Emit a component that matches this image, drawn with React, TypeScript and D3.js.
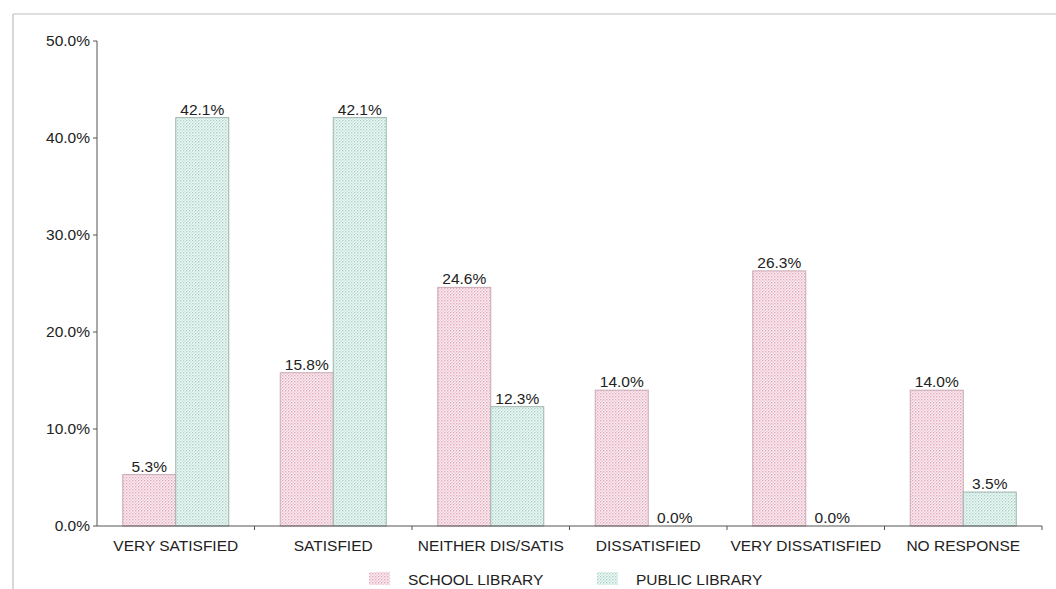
import React from "react";
import * as d3 from "d3";

const categories = [
  "VERY SATISFIED",
  "SATISFIED",
  "NEITHER DIS/SATIS",
  "DISSATISFIED",
  "VERY DISSATISFIED",
  "NO RESPONSE",
];
const schoolLibrary = [5.3, 15.8, 24.6, 14.0, 26.3, 14.0];
const publicLibrary = [42.1, 42.1, 12.3, 0.0, 0.0, 3.5];
const seriesNames = ["SCHOOL LIBRARY", "PUBLIC LIBRARY"];
const yTicks = [0, 10, 20, 30, 40, 50];

const W = 1056;
const H = 589;
const left = 97;
const right = 1042;
const top = 41;
const bottom = 526;
const font = "'Liberation Sans', Arial, sans-serif";
const fs = 15.5;

export default function App() {
  const x = d3.scaleBand<string>().domain(categories).range([left, right]);
  const y = d3.scaleLinear().domain([0, 50]).range([bottom, top]);
  const barW = 53;
  const series = [
    { name: seriesNames[0], values: schoolLibrary, fill: "url(#dotPink)", stroke: "#c9a9b4" },
    { name: seriesNames[1], values: publicLibrary, fill: "url(#dotTeal)", stroke: "#9fb5b0" },
  ];
  const fmt = (v: number) => v.toFixed(1) + "%";

  return (
    <svg
      width={W}
      height={H}
      style={{ position: "absolute", left: 0, top: 0, background: "#fff" }}
      fontFamily={font}
    >
      <defs>
        <pattern id="dotPink" width="3" height="3" patternUnits="userSpaceOnUse">
          <rect width="3" height="3" fill="#fbeef2" />
          <rect x="0" y="0" width="1.4" height="1.4" fill="#e3a9bb" />
          <rect x="1.5" y="1.5" width="1.4" height="1.4" fill="#ecc3cf" />
        </pattern>
        <pattern id="dotTeal" width="3" height="3" patternUnits="userSpaceOnUse">
          <rect width="3" height="3" fill="#eef8f5" />
          <rect x="0" y="0" width="1.4" height="1.4" fill="#a9d2c8" />
          <rect x="1.5" y="1.5" width="1.4" height="1.4" fill="#c6e3dc" />
        </pattern>
      </defs>

      {/* outer frame */}
      <line x1={13} x2={W} y1={14} y2={14} stroke="#bdbdbd" strokeWidth={1.2} />
      <line x1={13} x2={13} y1={14} y2={H} stroke="#bdbdbd" strokeWidth={1.2} />

      {/* y axis */}
      <line x1={left} x2={left} y1={top} y2={bottom} stroke="#555" />
      {yTicks.map((t) => (
        <g key={t}>
          <line x1={left - 4} x2={left} y1={y(t)} y2={y(t)} stroke="#555" />
          <text
            x={left - 7}
            y={y(t)}
            dy="0.35em"
            textAnchor="end"
            fontSize={fs}
            fill="#222"
          >
            {fmt(t)}
          </text>
        </g>
      ))}

      {/* bars */}
      {categories.map((c, i) => {
        const cx = (x(c) as number) + x.bandwidth() / 2;
        return (
          <g key={c}>
            {series.map((s, k) => {
              const v = s.values[i];
              const bx = cx - barW + k * barW;
              return (
                <g key={s.name}>
                  {v > 0 && (
                    <rect
                      x={bx}
                      y={y(v)}
                      width={barW}
                      height={bottom - y(v)}
                      fill={s.fill}
                      stroke={s.stroke}
                      strokeWidth={1}
                    />
                  )}
                  <text
                    x={bx + barW / 2}
                    y={y(v) - 3}
                    textAnchor="middle"
                    fontSize={fs}
                    fill="#222"
                  >
                    {fmt(v)}
                  </text>
                </g>
              );
            })}
          </g>
        );
      })}

      {/* x axis */}
      <line x1={left} x2={right} y1={bottom} y2={bottom} stroke="#555" />
      {categories.map((c, i) => (
        <line
          key={"t" + i}
          x1={(x(c) as number) + x.bandwidth()}
          x2={(x(c) as number) + x.bandwidth()}
          y1={bottom}
          y2={bottom + 4}
          stroke="#555"
        />
      ))}
      {categories.map((c) => (
        <text
          key={"l" + c}
          x={(x(c) as number) + x.bandwidth() / 2}
          y={551}
          textAnchor="middle"
          fontSize={fs}
          fill="#222"
        >
          {c}
        </text>
      ))}

      {/* legend */}
      {series.map((s, k) => {
        const lx = k === 0 ? 369 : 597;
        return (
          <g key={"lg" + k}>
            <rect x={lx} y={572} width={21} height={13} fill={s.fill} stroke="none" />
            <text x={lx + 39} y={585} fontSize={fs} fill="#222">
              {s.name}
            </text>
          </g>
        );
      })}
    </svg>
  );
}
